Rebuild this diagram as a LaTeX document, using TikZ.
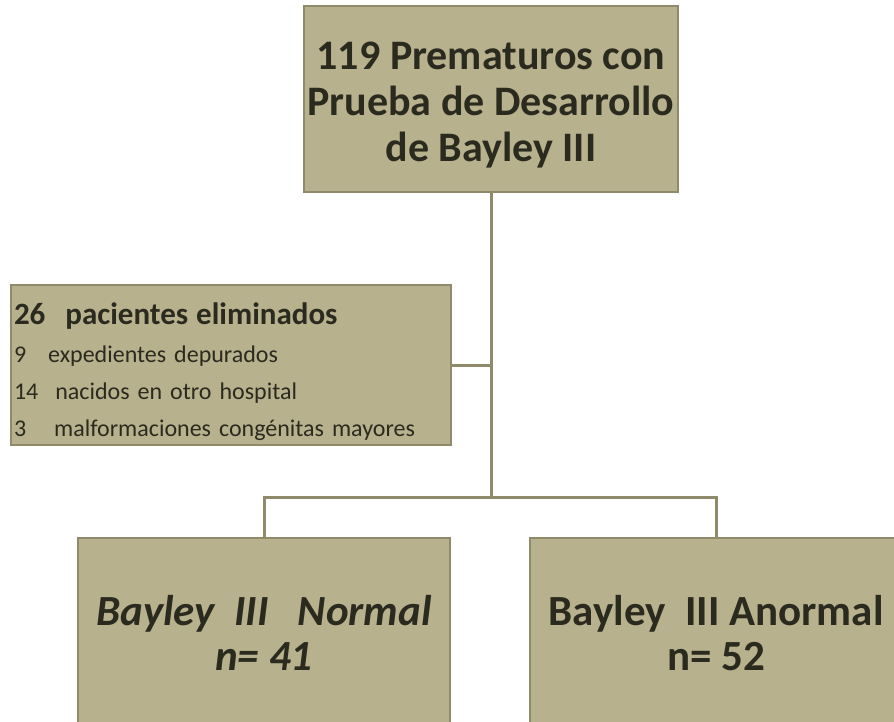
\documentclass[tikz,border=0pt]{standalone}
\usepackage{fontspec}
\setmainfont{Carlito}
\definecolor{boxfill}{HTML}{B8B18E}
\definecolor{boxline}{HTML}{8E8A6A}
\definecolor{boxtext}{HTML}{2B2A1F}
\tikzset{
  box/.style={draw=boxline, fill=boxfill, line width=1.2pt, text=boxtext, inner sep=3pt},
  link/.style={draw=boxline, line width=3pt}
}
\begin{document}
\begin{tikzpicture}[x=1pt,y=-1pt]
    \useasboundingbox (0,0) rectangle (894,721);
    \clip (0,0) rectangle (894,721);
    \node[box, minimum width=374pt, minimum height=186pt, align=center,
          font=\fontsize{42}{46}\selectfont\bfseries] (top) at (491,99)
          {\rule{0pt}{40pt}119 Prematuros con\\Prueba de Desarrollo\\de Bayley III};
    \node[box, minimum width=440pt, minimum height=160pt, text width=434pt, align=left,
          font=\fontsize{24}{37}\selectfont] (elim) at (231,365)
          {{\fontsize{31}{34}\selectfont\bfseries\rule{0pt}{35pt}26\hspace{20pt}pacientes eliminados}\\[1pt]
           9\hspace{22pt}expedientes depurados\\
           14\hspace{17pt}nacidos en otro hospital\\
           3\hspace{28pt}malformaciones congénitas mayores};
    \node[box, minimum width=372pt, minimum height=190pt, align=center,
          font=\fontsize{43}{45}\selectfont\bfseries\itshape] (normal) at (264,633)
          {Bayley\ \ III\ \ \ Normal\\n= 41};
    \node[box, minimum width=372pt, minimum height=190pt, align=center,
          font=\fontsize{43}{45}\selectfont\bfseries] (anormal) at (716,633)
          {Bayley\ \ III Anormal\\n= 52};
    \coordinate (split) at (491,497);
    \coordinate (join) at (491,365);
    \draw[link] (top.south) -- (split);
    \draw[link] (elim.east) -- (join);
    \draw[link] (split) -| (normal.north);
    \draw[link] (split) -| (anormal.north);
\end{tikzpicture}
\end{document}
